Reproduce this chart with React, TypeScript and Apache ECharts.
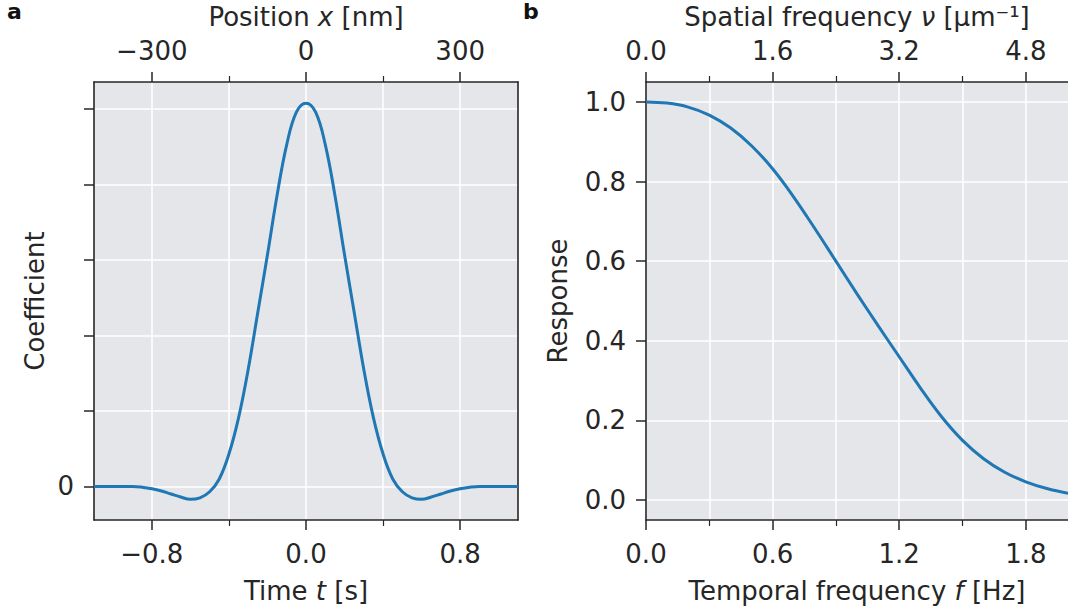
import React, { useEffect, useRef } from "react";
import * as echarts from "echarts";

// ---- Panel a data: wavelet coefficient vs time ----
const timeS = [
  -1.1, -1.05, -1.0, -0.95, -0.9, -0.85, -0.8, -0.75, -0.7, -0.65, -0.6, -0.55,
  -0.5, -0.45, -0.4, -0.35, -0.3, -0.25, -0.2, -0.15, -0.1, -0.05, 0.0,
  0.05, 0.1, 0.15, 0.2, 0.25, 0.3, 0.35, 0.4, 0.45, 0.5, 0.55, 0.6, 0.65,
  0.7, 0.75, 0.8, 0.85, 0.9, 0.95, 1.0, 1.05, 1.1,
];
const coefficient = [
  0.0, 0.0, 0.0, 0.0, 0.0, -0.01, -0.03, -0.06, -0.1, -0.14, -0.17, -0.15,
  -0.07, 0.1, 0.43, 0.91, 1.55, 2.31, 3.07, 3.86, 4.53, 4.96, 5.08,
  4.96, 4.53, 3.86, 3.07, 2.31, 1.55, 0.91, 0.43, 0.1, -0.07, -0.15, -0.17, -0.14,
  -0.1, -0.06, -0.03, -0.01, 0.0, 0.0, 0.0, 0.0, 0.0,
];
const timeMajorTicks = [-0.8, 0, 0.8];
const timeMinorTicks = [-0.4, 0.4];
const positionMajorTicks = [-300, 0, 300];
const positionMinorTicks = [-150, 150];
const coefficientTicks = [0, 1, 2, 3, 4, 5];
const coefficientLabels = [0];

// ---- Panel b data: response vs temporal frequency ----
const temporalFreqHz = [
  0.0, 0.1, 0.2, 0.3, 0.4, 0.5, 0.6, 0.7, 0.8, 0.9, 1.0, 1.1, 1.2, 1.3, 1.4,
  1.5, 1.6, 1.7, 1.8, 1.9, 2.0,
];
const response = [
  1.0, 0.997, 0.987, 0.967, 0.935, 0.89, 0.832, 0.761, 0.682, 0.6, 0.518,
  0.438, 0.36, 0.282, 0.21, 0.15, 0.104, 0.07, 0.046, 0.029, 0.017,
];
const freqMajorTicks = [0, 0.6, 1.2, 1.8];
const freqMinorTicks = [0.3, 0.9, 1.5];
const spatialMajorTicks = [0, 1.6, 3.2, 4.8];
const spatialMinorTicks = [0.8, 2.4, 4.0];
const responseTicks = [0, 0.2, 0.4, 0.6, 0.8, 1.0];

const NM_PER_S = 375;
const SPATIAL_PER_HZ = 1000 / NM_PER_S;

const FONT = "DejaVu Sans";
const TXT = "#262626";
const SPINE = "#262626";
const BG = "#e5e6e9";
const FS = 26;

const minus = (s: string) => s.replace("-", "\u2212");

function App() {
  const ref = useRef<HTMLDivElement>(null);

  useEffect(() => {
    if (!ref.current) return;
    const chart = echarts.init(ref.current, undefined, { renderer: "svg" });

    const tMin = -1.1, tMax = 1.1;
    const fMin = 0, fMax = 2.0;

    const labelStyle = { color: TXT, fontFamily: FONT, fontSize: FS };
    const spineLine = { show: true, onZero: false, lineStyle: { color: SPINE, width: 1.6 } };
    const noLine = { show: false, onZero: false };
    const split = { show: true, lineStyle: { color: "#ffffff", width: 1.5 } };

    const xAx = (o: any) => ({
      type: "value",
      splitLine: { show: false },
      ...o,
    });

    const major = (vals: number[]) => ({
      show: true,
      customValues: vals,
      length: 10,
      lineStyle: { color: SPINE, width: 1.5 },
    });
    const minor = (vals: number[]) => ({
      show: true,
      customValues: vals,
      length: 6,
      lineStyle: { color: SPINE, width: 1.2 },
    });

    const rich = {
      n: { fontFamily: FONT, fontSize: FS, fill: TXT },
      i: { fontFamily: FONT, fontSize: FS, fontStyle: "italic", fill: TXT },
    };

    const option: any = {
      animation: false,
      backgroundColor: "#ffffff",
      grid: [
        { left: 94, top: 82, width: 424, height: 438, show: true, backgroundColor: BG, borderWidth: 0 },
        { left: 646, top: 82, width: 423.4, height: 438, show: true, backgroundColor: BG, borderWidth: 0 },
      ],
      xAxis: [
        xAx({
          gridIndex: 0, position: "bottom", min: tMin, max: tMax,
          axisLine: spineLine, axisTick: major(timeMajorTicks),
          axisLabel: { ...labelStyle, margin: 21, customValues: timeMajorTicks, formatter: (v: number) => minus(v.toFixed(1)) },
          splitLine: split,
        }),
        xAx({
          gridIndex: 0, position: "bottom", min: tMin, max: tMax,
          axisLine: noLine, axisTick: minor(timeMinorTicks), axisLabel: { show: false },
          splitLine: split,
        }),
        xAx({
          gridIndex: 0, position: "top", min: tMin * NM_PER_S, max: tMax * NM_PER_S,
          axisLine: spineLine, axisTick: major(positionMajorTicks),
          axisLabel: { ...labelStyle, margin: 18, customValues: positionMajorTicks, formatter: (v: number) => minus(String(Math.round(v))) },
        }),
        xAx({
          gridIndex: 0, position: "top", min: tMin * NM_PER_S, max: tMax * NM_PER_S,
          axisLine: noLine, axisTick: minor(positionMinorTicks), axisLabel: { show: false },
        }),
        xAx({
          gridIndex: 1, position: "bottom", min: fMin, max: fMax,
          axisLine: spineLine, axisTick: major(freqMajorTicks),
          axisLabel: { ...labelStyle, margin: 21, customValues: freqMajorTicks, formatter: (v: number) => v.toFixed(1) },
          splitLine: split,
        }),
        xAx({
          gridIndex: 1, position: "bottom", min: fMin, max: fMax,
          axisLine: noLine, axisTick: minor(freqMinorTicks), axisLabel: { show: false },
          splitLine: split,
        }),
        xAx({
          gridIndex: 1, position: "top", min: fMin * SPATIAL_PER_HZ, max: fMax * SPATIAL_PER_HZ,
          axisLine: spineLine, axisTick: major(spatialMajorTicks),
          axisLabel: { ...labelStyle, margin: 18, customValues: spatialMajorTicks, formatter: (v: number) => v.toFixed(1) },
        }),
        xAx({
          gridIndex: 1, position: "top", min: fMin * SPATIAL_PER_HZ, max: fMax * SPATIAL_PER_HZ,
          axisLine: noLine, axisTick: minor(spatialMinorTicks), axisLabel: { show: false },
        }),
      ],
      yAxis: [
        {
          type: "value", gridIndex: 0, position: "left", min: -0.444, max: 5.36,
          axisLine: spineLine, axisTick: major(coefficientTicks),
          axisLabel: { ...labelStyle, margin: 20, customValues: coefficientLabels, formatter: (v: number) => String(v) },
          splitLine: split,
        },
        {
          type: "value", gridIndex: 0, position: "right", min: -0.444, max: 5.36,
          axisLine: spineLine, axisTick: { show: false }, axisLabel: { show: false }, splitLine: { show: false },
        },
        {
          type: "value", gridIndex: 1, position: "left", min: -0.05, max: 1.05,
          axisLine: spineLine, axisTick: major(responseTicks),
          axisLabel: { ...labelStyle, margin: 20, customValues: responseTicks, formatter: (v: number) => v.toFixed(1) },
          splitLine: split,
        },
      ],
      series: [
        {
          type: "line", xAxisIndex: 0, yAxisIndex: 0,
          data: timeS.map((t, i) => [t, coefficient[i]]),
          showSymbol: false, smooth: 0.4, lineStyle: { color: "#1f77b4", width: 3 },
          z: 3,
        },
        {
          type: "line", xAxisIndex: 4, yAxisIndex: 2,
          data: temporalFreqHz.map((f, i) => [f, response[i]]),
          showSymbol: false, smooth: 0.4, lineStyle: { color: "#1f77b4", width: 3 },
          z: 3,
        },
      ],
      graphic: [
        { type: "text", left: 7, top: 0, style: { text: "a", fontFamily: FONT, fontWeight: "bold", fontSize: 22, fill: "#111" } },
        { type: "text", left: 523, top: 0, style: { text: "b", fontFamily: FONT, fontWeight: "bold", fontSize: 22, fill: "#111" } },
        { type: "text", x: 306, y: 17, style: { text: "{n|Position }{i|x}{n| [nm]}", align: "center", verticalAlign: "middle", rich } },
        { type: "text", x: 306, y: 591, style: { text: "{n|Time }{i|t}{n| [s]}", align: "center", verticalAlign: "middle", rich } },
        { type: "text", x: 857, y: 17, style: { text: "{n|Spatial frequency }{i|\u03bd}{n| [\u00b5m\u207b\u00b9]}", align: "center", verticalAlign: "middle", rich } },
        { type: "text", x: 857, y: 591, style: { text: "{n|Temporal frequency }{i|f}{n| [Hz]}", align: "center", verticalAlign: "middle", rich } },
        {
          type: "text", x: 35, y: 301, rotation: Math.PI / 2,
          style: { text: "Coefficient", fontFamily: FONT, fontSize: FS, fill: TXT, align: "center", verticalAlign: "middle" },
        },
        {
          type: "text", x: 558, y: 301, rotation: Math.PI / 2,
          style: { text: "Response", fontFamily: FONT, fontSize: FS, fill: TXT, align: "center", verticalAlign: "middle" },
        },
      ],
    };

    chart.setOption(option);
    return () => chart.dispose();
  }, []);

  return (
    <div
      ref={ref}
      style={{ position: "fixed", left: 0, top: 0, width: 1068, height: 611, background: "#fff" }}
    />
  );
}

export default App;
